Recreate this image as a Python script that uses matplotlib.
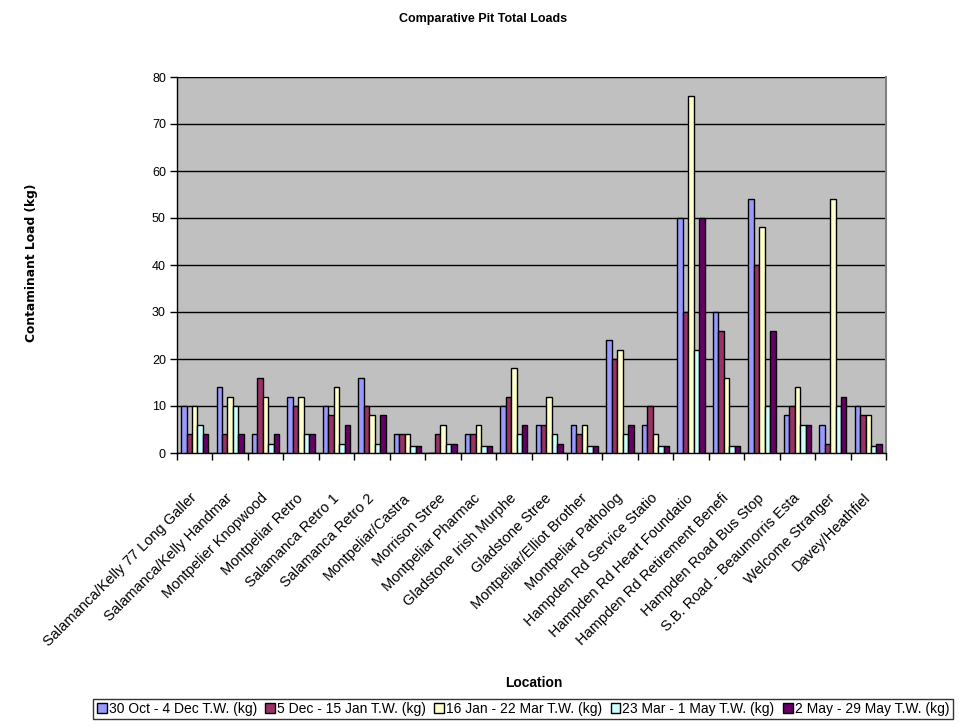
import numpy as np
import matplotlib
matplotlib.use("Agg")
import matplotlib.pyplot as plt

plt.rcParams['font.family'] = ['Liberation Sans', 'DejaVu Sans']

locations = [
    "Salamanca/Kelly 77 Long Galler",
    "Salamanca/Kelly Handmar",
    "Montpelier Knopwood",
    "Montpeliar Retro",
    "Salamanca Retro 1",
    "Salamanca Retro 2",
    "Montpeliar/Castra",
    "Morrison Stree",
    "Montpeliar Pharmac",
    "Gladstone Irish Murphe",
    "Gladstone Stree",
    "Montpeliar/Elliot Brother",
    "Montpeliar Patholog",
    "Hampden Rd Service Statio",
    "Hampden Rd Heart Foundatio",
    "Hampden Rd Retirement Benefi",
    "Hampden Road Bus Stop",
    "S.B. Road - Beaumorris Esta",
    "Welcome Stranger",
    "Davey/Heathfiel",
]

series_names = [
    "30 Oct - 4 Dec T.W. (kg)",
    "5 Dec - 15 Jan T.W. (kg)",
    "16 Jan - 22 Mar T.W. (kg)",
    "23 Mar - 1 May T.W. (kg)",
    "2 May - 29 May T.W. (kg)",
]

oct_dec = [10, 14, 4, 12, 10, 16, 4, 0, 4, 10, 6, 6, 24, 6, 50, 30, 54, 8, 6, 10]
dec_jan = [4, 4, 16, 10, 8, 10, 4, 4, 4, 12, 6, 4, 20, 10, 30, 26, 40, 10, 2, 8]
jan_mar = [10, 12, 12, 12, 14, 8, 4, 6, 6, 18, 12, 6, 22, 4, 76, 16, 48, 14, 54, 8]
mar_may = [6, 10, 2, 4, 2, 2, 1.5, 2, 1.5, 4, 4, 1.5, 4, 1.5, 22, 1.5, 10, 6, 10, 1.5]
may_may = [4, 4, 4, 4, 6, 8, 1.5, 2, 1.5, 6, 2, 1.5, 6, 1.5, 50, 1.5, 26, 6, 12, 2]

series_values = [oct_dec, dec_jan, jan_mar, mar_may, may_may]
colors = ["#9999FF", "#993366", "#FFFFCC", "#CCFFFF", "#660066"]

fig = plt.figure(figsize=(9.64, 7.28), dpi=100)
ax = fig.add_axes([177 / 964, 1 - 453 / 728, (886 - 177) / 964, (453 - 77) / 728])
ax.set_facecolor("#C0C0C0")

n = len(locations)
k = len(series_values)
width = 1.0 / (k + 1.5)
centers = np.arange(n) + 0.5
for i, (vals, col, name) in enumerate(zip(series_values, colors, series_names)):
    ax.bar(centers + (i - (k - 1) / 2) * width, vals, width=width, color=col,
           edgecolor="black", linewidth=1.0, label=name, zorder=3)

ax.set_xlim(0, n)
ax.set_ylim(0, 80)
ax.set_yticks(np.arange(0, 81, 10))
ax.yaxis.grid(True, color="black", linewidth=1.0, zorder=1)
ax.set_axisbelow(True)
ax.tick_params(axis="y", direction="out", length=5, width=1, labelsize=9, pad=3)

ax.set_xticks(np.arange(0, n + 1))
ax.set_xticklabels([])
ax.tick_params(axis="x", which="major", direction="out", length=5, width=1)
ax.set_xticks(centers, minor=True)
ax.set_xticklabels(locations, minor=True, rotation=45, ha="right", va="center",
                   rotation_mode="anchor", fontsize=10.5)
ax.tick_params(axis="x", which="minor", length=0, pad=31)

for side in ("left", "bottom"):
    ax.spines[side].set_color("black")
    ax.spines[side].set_linewidth(1)
ax.spines["top"].set_visible(False)
ax.spines["right"].set_color("#808080")
ax.spines["right"].set_linewidth(1.5)

fig.text(483 / 964, 1 - 19 / 728, "Comparative Pit Total Loads", ha="center", va="center",
         fontsize=9, fontweight="bold")
fig.text(32 / 964, 1 - 263 / 728, "Contaminant Load (kg)", ha="center", va="center",
         rotation=90, fontsize=8.8, fontweight="bold", family="DejaVu Sans")
fig.text(534 / 964, 1 - 683 / 728, "Location", ha="center", va="center",
         fontsize=10, fontweight="bold")

leg = fig.legend(loc="center", bbox_to_anchor=(523 / 964, 1 - 709 / 728), ncol=5,
                 fontsize=10, handlelength=0.7, handleheight=0.7, handletextpad=0.15,
                 columnspacing=0.6, borderpad=0.25, borderaxespad=0, fancybox=False,
                 frameon=True, edgecolor="black")
leg.get_frame().set_linewidth(1)

fig.savefig("out.png", dpi=100)
